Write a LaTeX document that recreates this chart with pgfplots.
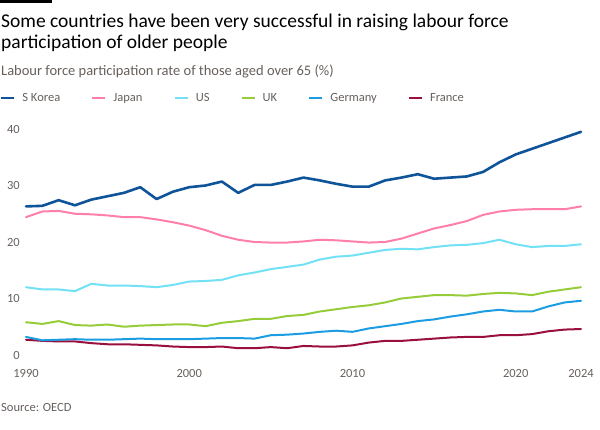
\documentclass[border=0pt]{standalone}
\usepackage{pgfplots}
\pgfplotsset{compat=1.18}
\usepackage{pgfplotstable}
\usepackage{fontspec}
\setmainfont{Carlito}
\definecolor{skorea}{HTML}{0F5499}
\definecolor{japan}{HTML}{FF7FAA}
\definecolor{us}{HTML}{72E1F6}
\definecolor{uk}{HTML}{96CC39}
\definecolor{germany}{HTML}{1C9DE2}
\definecolor{france}{HTML}{990F3D}
\definecolor{greytext}{HTML}{66605C}
\definecolor{titletext}{HTML}{000000}
\pgfplotstableread{
year skorea japan us uk germany france
1990 26.3 24.4 12.0 5.8 3.2 2.7
1991 26.4 25.4 11.6 5.5 2.6 2.5
1992 27.4 25.5 11.6 6.0 2.7 2.4
1993 26.5 25.0 11.3 5.3 2.8 2.4
1994 27.5 24.9 12.6 5.2 2.7 2.1
1995 28.1 24.7 12.3 5.4 2.7 1.9
1996 28.7 24.4 12.3 5.0 2.8 1.9
1997 29.7 24.4 12.2 5.2 2.9 1.8
1998 27.6 24.0 12.0 5.3 2.8 1.7
1999 28.9 23.5 12.4 5.4 2.8 1.5
2000 29.7 22.9 13.0 5.4 2.8 1.4
2001 30.0 22.1 13.1 5.1 2.9 1.4
2002 30.7 21.1 13.3 5.7 3.0 1.5
2003 28.7 20.4 14.1 6.0 3.0 1.2
2004 30.1 20.0 14.6 6.4 2.9 1.2
2005 30.1 19.9 15.2 6.4 3.5 1.4
2006 30.7 19.9 15.6 6.9 3.6 1.2
2007 31.4 20.1 16.0 7.1 3.8 1.6
2008 30.9 20.4 16.9 7.7 4.1 1.5
2009 30.3 20.3 17.4 8.1 4.3 1.5
2010 29.8 20.1 17.6 8.5 4.1 1.7
2011 29.8 19.9 18.1 8.8 4.7 2.2
2012 30.9 20.0 18.6 9.3 5.1 2.5
2013 31.4 20.6 18.8 10.0 5.5 2.5
2014 32.0 21.5 18.7 10.3 6.0 2.7
2015 31.2 22.4 19.1 10.6 6.3 2.9
2016 31.4 23.0 19.4 10.6 6.8 3.1
2017 31.6 23.7 19.5 10.5 7.2 3.2
2018 32.4 24.8 19.8 10.8 7.7 3.2
2019 34.1 25.4 20.4 11.0 8.0 3.5
2020 35.5 25.7 19.6 10.9 7.7 3.5
2021 36.5 25.8 19.1 10.6 7.7 3.7
2022 37.5 25.8 19.3 11.2 8.6 4.2
2023 38.5 25.8 19.3 11.6 9.3 4.5
2024 39.5 26.3 19.6 12.0 9.6 4.6
}\datatable
\begin{document}
\begin{tikzpicture}[x=1pt,y=1pt]
\path[use as bounding box] (0,0) rectangle (600,429);
\fill[black] (0,429) rectangle (52,425.7);
\node[anchor=base west, inner sep=0pt, text=titletext, font=\fontsize{19.5}{22}\selectfont] at (1,401) {Some countries have been very successful in raising labour force};
\node[anchor=base west, inner sep=0pt, text=titletext, font=\fontsize{19.5}{22}\selectfont] at (1,380.5) {participation of older people};
\node[anchor=base west, inner sep=0pt, text=greytext, font=\fontsize{14.5}{16}\selectfont] at (1,353) {Labour force participation rate of those aged over 65 (\%)};
\node[anchor=base west, inner sep=0pt, text=greytext, font=\fontsize{12.5}{14}\selectfont] at (1,17.5) {Source: OECD};
\begin{axis}[
  at={(26pt,74pt)}, anchor=south west,
  scale only axis, width=555pt, height=226pt,
  xmin=1990, xmax=2024, ymin=0, ymax=40,
  clip=false,
  axis line style={draw=none},
  major tick length=0pt,
  tick style={draw=none},
  xtick={1990,2000,2010,2020,2024},
  xticklabels={1990,2000,2010,2020,2024},
  ytick={0,10,20,30,40},
  yticklabel style={anchor=east, inner sep=0pt, xshift=-6pt, text=greytext, font=\fontsize{12.5}{14}\selectfont},
  xticklabel style={anchor=north, inner sep=0pt, yshift=-14pt, text=greytext, font=\fontsize{12.5}{14}\selectfont},
  /pgf/number format/assume math mode=true,
  legend columns=-1,
  legend style={at={(axis description cs:-0.0468,1.137)}, anchor=west, draw=none, fill=none,
    inner sep=0pt, font=\fontsize{12.5}{14}\selectfont, text=greytext,
    nodes={inner sep=0pt},
    /tikz/every odd column/.append style={column sep=7pt},
    /tikz/every even column/.append style={column sep=31pt}},
  legend image code/.code={\draw[#1, line width=2.2pt, line cap=butt] (0pt,0pt) -- (13pt,0pt);},
  every axis plot/.append style={line join=round, line cap=round},
]
\addplot[skorea, line width=2.6pt] table[x=year, y=skorea] {\datatable};
\addlegendentry{S Korea}
\addplot[japan, line width=2pt] table[x=year, y=japan] {\datatable};
\addlegendentry{Japan}
\addplot[us, line width=2pt] table[x=year, y=us] {\datatable};
\addlegendentry{US}
\addplot[uk, line width=2pt] table[x=year, y=uk] {\datatable};
\addlegendentry{UK}
\addplot[france, line width=2pt, forget plot] table[x=year, y=france] {\datatable};
\addplot[germany, line width=2pt] table[x=year, y=germany] {\datatable};
\addlegendentry{Germany}
\addlegendimage{france, line width=2pt}
\addlegendentry{France}
\end{axis}
\end{tikzpicture}
\end{document}
